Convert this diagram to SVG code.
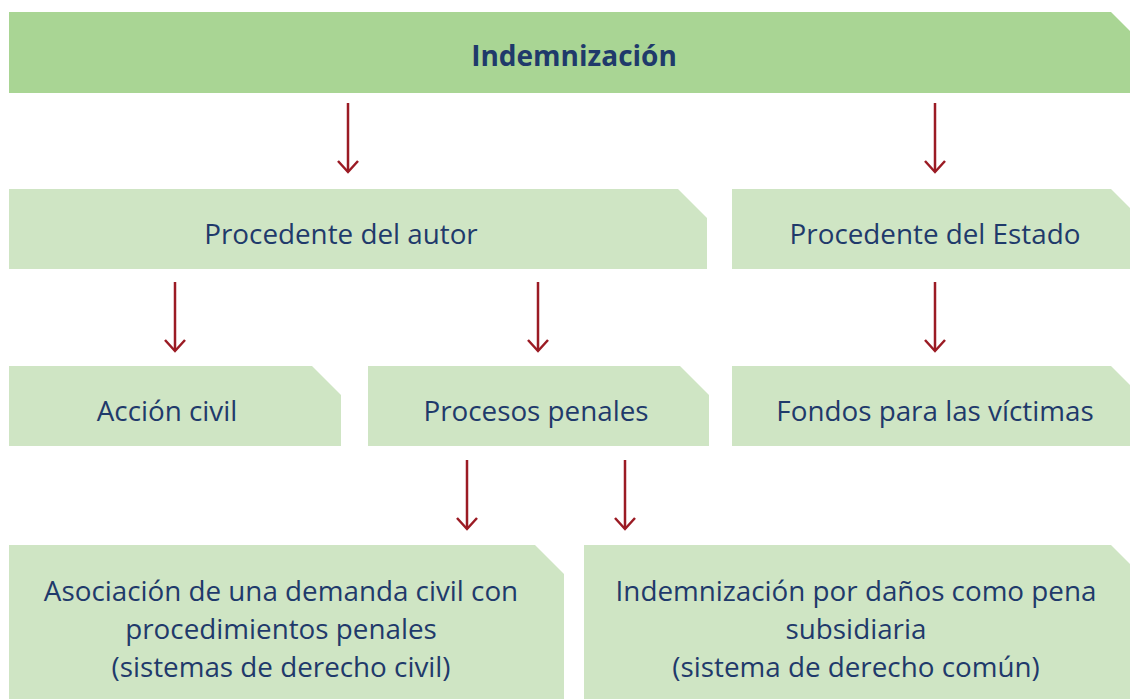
<svg xmlns="http://www.w3.org/2000/svg" width="1130" height="699" viewBox="0 0 1130 699">
<style>
.box{fill:#cfe5c4}
.top{fill:#a9d594}
.t{font-family:"Open Sans","Noto Sans",sans-serif;font-size:27.8px;fill:#1f3a6b;text-anchor:middle}
.b{font-weight:bold;font-size:28px}
.c line{stroke:#9b1b24;stroke-width:2.5}
.c path{fill:none;stroke:#9b1b24;stroke-width:2.5}
</style>
<rect width="1130" height="699" fill="#ffffff"/>
<g id="n-indemnizacion">
<polygon class="top" points="9,12 1111,12 1130,31 1130,93 9,93"/>
<text class="t b" x="574" y="66">Indemnización</text>
</g>
<g id="n-autor">
<polygon class="box" points="9,189 678,189 707,218 707,269 9,269"/>
<text class="t" x="341" y="244">Procedente del autor</text>
</g>
<g id="n-estado">
<polygon class="box" points="732,189 1111,189 1130,208 1130,269 732,269"/>
<text class="t" x="935" y="244">Procedente del Estado</text>
</g>
<g id="n-accion">
<polygon class="box" points="9,366 312,366 341,395 341,446 9,446"/>
<text class="t" x="167" y="421">Acción civil</text>
</g>
<g id="n-procesos">
<polygon class="box" points="368,366 680,366 709,395 709,446 368,446"/>
<text class="t" x="536" y="421">Procesos penales</text>
</g>
<g id="n-fondos">
<polygon class="box" points="732,366 1111,366 1130,385 1130,446 732,446"/>
<text class="t" x="935" y="421">Fondos para las víctimas</text>
</g>
<g id="n-asociacion">
<polygon class="box" points="9,545 535,545 564,574 564,699 9,699"/>
<text class="t" x="281" y="601">Asociación de una demanda civil con</text>
<text class="t" x="281" y="639">procedimientos penales</text>
<text class="t" x="281" y="677">(sistemas de derecho civil)</text>
</g>
<g id="n-pena">
<polygon class="box" points="584,545 1111,545 1130,564 1130,699 584,699"/>
<text class="t" x="856" y="601">Indemnización por daños como pena</text>
<text class="t" x="856" y="639">subsidiaria</text>
<text class="t" x="856" y="677">(sistema de derecho común)</text>
</g>
<g id="connectors" class="c">
<line x1="348" y1="103" x2="348" y2="172"/><path d="M338,161 L348,172 L358,161"/>
<line x1="935" y1="103" x2="935" y2="172"/><path d="M925,161 L935,172 L945,161"/>
<line x1="175" y1="282" x2="175" y2="351"/><path d="M165,340 L175,351 L185,340"/>
<line x1="538" y1="282" x2="538" y2="351"/><path d="M528,340 L538,351 L548,340"/>
<line x1="935" y1="282" x2="935" y2="351"/><path d="M925,340 L935,351 L945,340"/>
<line x1="467" y1="460" x2="467" y2="529"/><path d="M457,518 L467,529 L477,518"/>
<line x1="625" y1="460" x2="625" y2="529"/><path d="M615,518 L625,529 L635,518"/>
</g>
</svg>
